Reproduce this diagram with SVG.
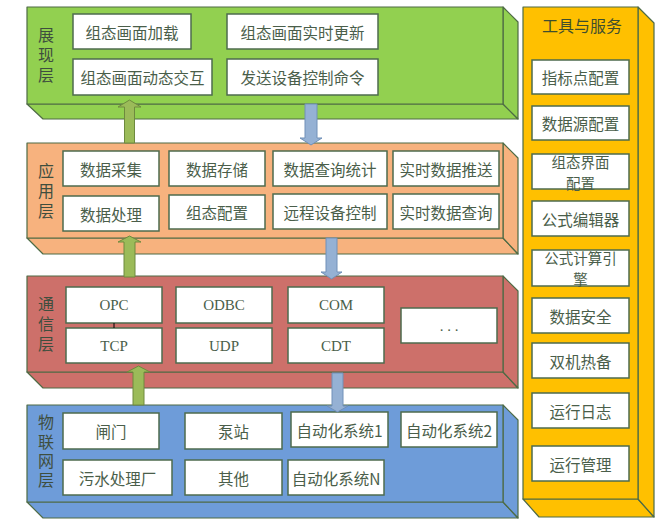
<svg xmlns="http://www.w3.org/2000/svg" width="664" height="525" viewBox="0 0 664 525">
<style>
.lay{stroke:#4E6B45;stroke-width:1.2;stroke-linejoin:round}
.g{fill:#92D050}.o{fill:#F7B27E}.r{fill:#CD706A}.b{fill:#6E9CD9}.y{fill:#FFC000}
.box{fill:#fff;stroke:#4E6B4E;stroke-width:1.5}
.t{font-family:"Noto Sans CJK SC","Noto Sans",sans-serif;font-size:15.5px;fill:#4A5E4A;text-anchor:middle;dominant-baseline:central}
.t2{font-size:14.5px}
.lt{font-family:"Liberation Serif",serif;font-size:15px;fill:#4A5E4A;text-anchor:middle;dominant-baseline:central}
.lbl{font-family:"Noto Sans CJK SC",sans-serif;font-size:16px;fill:#3E4E3E;text-anchor:middle}
.vl{font-family:"Noto Sans CJK SC",sans-serif;font-size:16px;fill:#3E4E3E;text-anchor:middle;writing-mode:vertical-rl;letter-spacing:4px}
.ga{fill:#9BBB59;stroke:#6E8A3E;stroke-width:1}
.ba{fill:#95B1D4;stroke:#7090B8;stroke-width:1}
</style>
<rect width="664" height="525" fill="#fff"/>

<g id="layer-present">
<polygon class="lay g" points="27,104 503,104 518,119 43,119"/>
<polygon class="lay g" points="503,7 518,22 518,119 503,104"/>
<rect class="lay g" x="27" y="7" width="476" height="97"/>
<text class="vl" x="46" y="57">展现层</text>
<rect class="box" x="73" y="14" width="118" height="35"/><text class="t" x="132" y="31.5">组态画面加载</text>
<rect class="box" x="73" y="59" width="139" height="36"/><text class="t" x="142.5" y="77">组态画面动态交互</text>
<rect class="box" x="227" y="14" width="151" height="35"/><text class="t" x="302.5" y="31.5">组态画面实时更新</text>
<rect class="box" x="227" y="59" width="151" height="36"/><text class="t" x="302.5" y="77">发送设备控制命令</text>
</g>

<g id="layer-app">
<polygon class="lay o" points="27,238 503,238 518,254 43,254"/>
<polygon class="lay o" points="503,143 518,158 518,254 503,238"/>
<rect class="lay o" x="27" y="143" width="476" height="95"/>
<text class="vl" x="46" y="193">应用层</text>
<rect class="box" x="63" y="151" width="96" height="35"/><text class="t" x="111" y="168.5">数据采集</text>
<rect class="box" x="169" y="151" width="96" height="35"/><text class="t" x="217" y="168.5">数据存储</text>
<rect class="box" x="273" y="151" width="114" height="35"/><text class="t" x="330" y="168.5">数据查询统计</text>
<rect class="box" x="393" y="151" width="106" height="35"/><text class="t" x="446" y="168.5">实时数据推送</text>
<rect class="box" x="63" y="196" width="96" height="35"/><text class="t" x="111" y="213.5">数据处理</text>
<rect class="box" x="169" y="195" width="96" height="34"/><text class="t" x="217" y="212">组态配置</text>
<rect class="box" x="273" y="194" width="114" height="35"/><text class="t" x="330" y="211.5">远程设备控制</text>
<rect class="box" x="393" y="194" width="106" height="35"/><text class="t" x="446" y="211.5">实时数据查询</text>
</g>

<g id="layer-comm">
<polygon class="lay r" points="27,372 503,372 518,388 43,388"/>
<polygon class="lay r" points="503,276 518,291 518,388 503,372"/>
<rect class="lay r" x="27" y="276" width="476" height="96"/>
<text class="vl" x="46" y="326">通信层</text>
<rect class="box" x="66" y="287" width="96" height="36"/><text class="lt" x="114" y="305">OPC</text>
<rect class="box" x="66" y="328" width="96" height="35"/><text class="lt" x="114" y="345.5">TCP</text>
<line x1="114" y1="323" x2="114" y2="328" stroke="#000" stroke-width="1"/>
<rect class="box" x="176" y="287" width="96" height="36"/><text class="lt" x="224" y="305">ODBC</text>
<rect class="box" x="176" y="328" width="96" height="35"/><text class="lt" x="224" y="345.5">UDP</text>
<rect class="box" x="288" y="287" width="96" height="36"/><text class="lt" x="336" y="305">COM</text>
<rect class="box" x="288" y="328" width="96" height="35"/><text class="lt" x="336" y="345.5">CDT</text>
<rect class="box" x="401" y="308" width="96" height="35"/><text class="lt" x="449" y="325.5">. . .</text>
</g>

<g id="layer-iot">
<polygon class="lay b" points="27,502 503,502 518,518 43,518"/>
<polygon class="lay b" points="503,405 518,420 518,518 503,502"/>
<rect class="lay b" x="27" y="405" width="476" height="97"/>
<text class="vl" x="46" y="453" style="letter-spacing:3.3px">物联网层</text>
<rect class="box" x="63" y="413" width="96" height="36"/><text class="t" x="111" y="431">闸门</text>
<rect class="box" x="185" y="413" width="97" height="36"/><text class="t" x="233.5" y="431">泵站</text>
<rect class="box" x="291" y="412" width="97" height="35"/><text class="t" x="339.5" y="429.5">自动化系统1</text>
<rect class="box" x="401" y="412" width="96" height="35"/><text class="t" x="449" y="429.5">自动化系统2</text>
<rect class="box" x="63" y="460" width="109" height="35"/><text class="t" x="117.5" y="477.5">污水处理厂</text>
<rect class="box" x="185" y="460" width="97" height="35"/><text class="t" x="233.5" y="477.5">其他</text>
<rect class="box" x="288" y="460" width="96" height="35"/><text class="t" x="336" y="477.5">自动化系统N</text>
</g>

<g id="tools">
<polygon class="lay y" points="523,499 638,499 654,517 539,517"/>
<polygon class="lay y" points="638,7 654,23 654,517 638,499"/>
<rect class="lay y" x="523" y="7" width="115" height="492"/>
<text class="lbl" x="582" y="32" style="fill:#3E4E2E">工具与服务</text>
<rect class="box" x="532" y="60" width="97" height="34"/><text class="t" x="580.5" y="77">指标点配置</text>
<rect class="box" x="532" y="106" width="97" height="34"/><text class="t" x="580.5" y="123">数据源配置</text>
<rect class="box" x="532" y="154" width="97" height="35"/><text class="t t2"><tspan x="580.5" y="161">组态界面</tspan><tspan x="580.5" y="182">配置</tspan></text>
<rect class="box" x="532" y="201" width="97" height="35"/><text class="t" x="580.5" y="218.5">公式编辑器</text>
<rect class="box" x="532" y="250" width="97" height="36"/><text class="t t2"><tspan x="580.5" y="257">公式计算引</tspan><tspan x="580.5" y="278">擎</tspan></text>
<rect class="box" x="532" y="298" width="97" height="35"/><text class="t" x="580.5" y="315.5">数据安全</text>
<rect class="box" x="532" y="343" width="97" height="35"/><text class="t" x="580.5" y="360.5">双机热备</text>
<rect class="box" x="532" y="393" width="97" height="35"/><text class="t" x="580.5" y="410.5">运行日志</text>
<rect class="box" x="532" y="446" width="97" height="35"/><text class="t" x="580.5" y="463.5">运行管理</text>
</g>

<g id="connectors">
<polygon class="ga" points="124.5,143 124.5,107 118,107 129.5,100 141,107 134.5,107 134.5,143"/>
<polygon class="ga" points="124,277 124,242 118,242 129.5,236 141,242 135,242 135,277"/>
<polygon class="ga" points="133,405 133,372 127,372 138.5,366 150,372 144,372 144,405"/>
<polygon class="ba" points="305,104 305,138 300,138 311,145 322,138 317,138 317,104"/>
<polygon class="ba" points="326,238 326,272 321,272 331.5,279 342,272 337,272 337,238"/>
<polygon class="ba" points="332,373 332,406 327,406 337.5,412 348,406 343,406 343,373"/>
</g>
</svg>
